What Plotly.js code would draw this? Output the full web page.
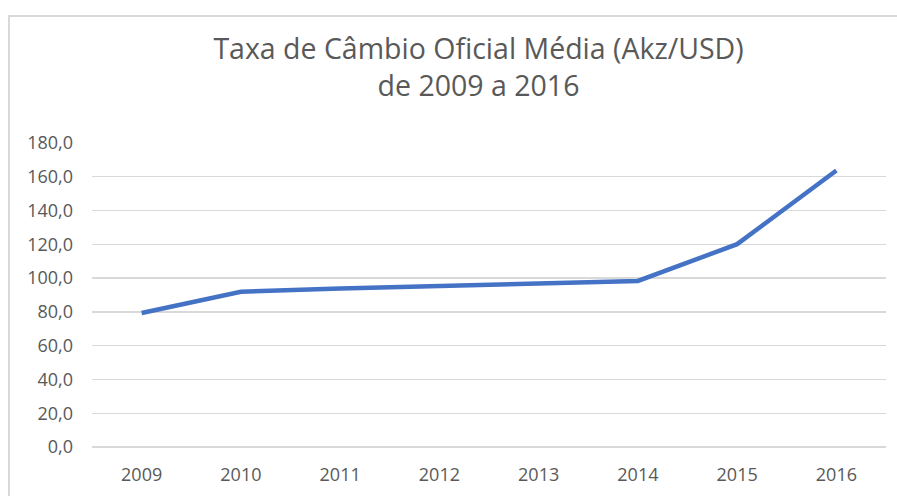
<!DOCTYPE html>
<html>
<head>
<meta charset="utf-8">
<script src="https://cdn.plot.ly/plotly-3.0.1.min.js"></script>
<style>
html,body{margin:0;padding:0;background:#fff;}
#wrap{position:relative;width:897px;height:496px;overflow:hidden;}
#chart{position:absolute;left:0;top:0;width:897px;height:496px;}
#frame{position:absolute;left:8px;top:15px;width:1000px;height:600px;border-left:2px solid #d9d9d9;border-top:2px solid #d9d9d9;pointer-events:none;}
</style>
</head>
<body>
<div id="wrap"><div id="chart"></div><div id="frame"></div></div>
<script>
const years = ['2009','2010','2011','2012','2013','2014','2015','2016'];
const rates = [79.3, 91.9, 93.9, 95.5, 96.6, 98.3, 120.1, 163.7];
const yTicks = [0,20,40,60,80,100,120,140,160,180];
const yTickText = yTicks.map(v => v.toFixed(1).replace('.', ','));
const titleText = 'Taxa de Câmbio Oficial Média (Akz/USD)<br>de 2009 a 2016';

const trace = {
  x: years, y: rates, type: 'scatter', mode: 'lines',
  line: {color: '#4472C4', width: 4.5, shape: 'linear'},
  hoverinfo: 'skip'
};
const font = 'Open Sans, Noto Sans, sans-serif';
const layout = {
  width: 897, height: 496,
  margin: {l: 92, r: 11, t: 143, b: 49, pad: 0},
  paper_bgcolor: '#ffffff', plot_bgcolor: '#ffffff',
  showlegend: false,
  title: {
    text: titleText,
    font: {family: font, size: 28.5, color: '#595959', lineposition: 'none'},
    xref: 'container', x: 0.5335, xanchor: 'center',
    yref: 'container', y: 0.882, yanchor: 'middle'
  },
  xaxis: {
    type: 'category', range: [-0.5, 7.5],
    showgrid: false, zeroline: false, showline: false,
    ticks: '', ticklabelstandoff: 15,
    tickfont: {family: font, size: 18, color: '#595959'}
  },
  yaxis: {
    range: [0, 180], tickvals: yTicks, ticktext: yTickText,
    showgrid: true, gridcolor: '#d9d9d9', gridwidth: 1.3,
    zeroline: true, zerolinecolor: '#d9d9d9', zerolinewidth: 1.3,
    showline: false, ticks: '', ticklabelstandoff: 18,
    tickfont: {family: font, size: 18, color: '#595959'}
  }
};
Plotly.newPlot('chart', [trace], layout, {staticPlot: true, displayModeBar: false});
</script>
</body>
</html>
